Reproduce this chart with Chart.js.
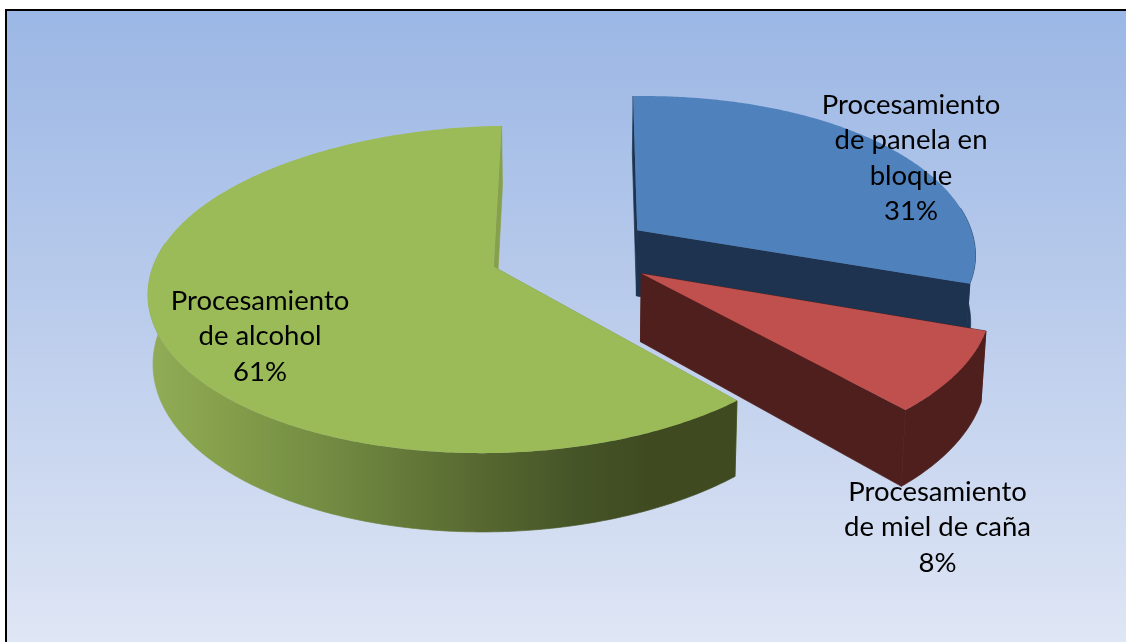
<!DOCTYPE html>
<html>
<head>
<meta charset="utf-8">
<title>Procesamiento</title>
<script src="https://cdn.jsdelivr.net/npm/chart.js@4/dist/chart.umd.min.js"></script>
<style>
  html, body { margin: 0; padding: 0; background: #fff; overflow: hidden; }
  canvas { display: block; }
</style>
</head>
<body>
<canvas id="pie3d" width="1126" height="642"></canvas>
<script>
const categories = ["Procesamiento de panela en bloque", "Procesamiento de miel de caña", "Procesamiento de alcohol"];
const shares = [31, 8, 61];
const labelLines = [
  ["Procesamiento", "de panela en", "bloque", "31%"],
  ["Procesamiento", "de miel de caña", "8%"],
  ["Procesamiento", "de alcohol", "61%"],
];

const topColors = ["#4f81bd", "#c0504d", "#9bbb59"];
const wallColors = ["#1d334f", "#4f1f1e", null];
const innerWallColors = ["#1d334f", "#4f1f1e", "#86a04c"];

// camera used to project the flat pie onto the page
const view = { x0: 573, y0: 252, a: 344, b: 160, k: 0.14, backBend: 11, depth: 67, bottomScale: 0.988 };
const explodeBySlice = [0.235, 0.235, 0.245];
const radiusBySlice = [0.99, 0.985, 0.978];
const labelBoxes = [
  { x: 911, y: 105 },
  { x: 937.5, y: 492 },
  { x: 260, y: 301 },
];
const lineGap = 35.5;

function project(u, v, bottom) {
  const s = 1 / (1 - view.k * v);
  let dx = view.a * u * s;
  let dy = view.b * v * s;
  // the far half of the pie leans slightly to the right
  if (v < 0) dx += view.backBend * v * v;
  if (bottom) {
    dx *= view.bottomScale;
    dy += view.depth * s;
  }
  return [view.x0 + dx, view.y0 + dy];
}

function tracePath(ctx, pts) {
  ctx.beginPath();
  pts.forEach((p, i) => (i ? ctx.lineTo(p[0], p[1]) : ctx.moveTo(p[0], p[1])));
  ctx.closePath();
}

// fill plus a hairline stroke so neighbouring walls leave no seam
function fillWall(ctx, pts, paint) {
  ctx.fillStyle = paint;
  ctx.strokeStyle = paint;
  ctx.lineWidth = 0.7;
  tracePath(ctx, pts);
  ctx.fill();
  ctx.stroke();
}

function rimAngles(start, end) {
  const steps = Math.ceil((end - start) / 0.01);
  const angles = [];
  for (let i = 0; i <= steps; i++) angles.push(start + ((end - start) * i) / steps);
  return angles;
}

function greenWallFill(ctx) {
  const g = ctx.createLinearGradient(146, 0, 738, 0);
  g.addColorStop(0, "#92ad58");
  g.addColorStop(0.12, "#86a04c");
  g.addColorStop(0.3, "#738c42");
  g.addColorStop(0.5, "#5e7135");
  g.addColorStop(0.72, "#465527");
  g.addColorStop(0.85, "#3f4a20");
  g.addColorStop(1, "#3f4a20");
  return g;
}

function drawSlice(ctx, arc, index) {
  const mid = (arc.startAngle + arc.endAngle) / 2;
  const cu = explodeBySlice[index] * Math.cos(mid);
  const cv = explodeBySlice[index] * Math.sin(mid);
  const r = radiusBySlice[index];
  const rimAt = (t, bottom) => project(cu + r * Math.cos(t), cv + r * Math.sin(t), bottom);
  const angles = rimAngles(arc.startAngle, arc.endAngle);
  const first = angles[0];
  const last = angles[angles.length - 1];
  const apexTop = project(cu, cv, false);
  const apexBottom = project(cu, cv, true);

  // radial walls
  fillWall(ctx, [apexTop, rimAt(first, false), rimAt(first, true), apexBottom], innerWallColors[index]);
  fillWall(ctx, [apexTop, rimAt(last, false), rimAt(last, true), apexBottom], innerWallColors[index]);

  // outer wall, only the part of the rim facing the viewer
  const facing = angles.filter((t) => Math.sin(t) > -0.15);
  if (facing.length) {
    const wallPts = facing.map((t) => rimAt(t, false)).concat(facing.slice().reverse().map((t) => rimAt(t, true)));
    fillWall(ctx, wallPts, wallColors[index] || greenWallFill(ctx));
  }

  // top face
  ctx.fillStyle = topColors[index];
  tracePath(ctx, [apexTop].concat(angles.map((t) => rimAt(t, false))));
  ctx.fill();
}

const pie3dPlugin = {
  id: "pie3d",
  beforeDraw(chart) {
    const { ctx, width, height } = chart;
    const bg = ctx.createLinearGradient(0, 10, 0, height);
    bg.addColorStop(0, "#9bb7e5");
    bg.addColorStop(0.5, "#bccdec");
    bg.addColorStop(1, "#dfe6f5");
    ctx.save();
    ctx.fillStyle = "#ffffff";
    ctx.fillRect(0, 0, width, height);
    ctx.fillStyle = bg;
    ctx.fillRect(6, 10, width - 6, height - 10);
    ctx.fillStyle = "#000000";
    ctx.fillRect(5, 9, width - 5, 2);
    ctx.fillRect(5, 9, 2, height - 9);
    ctx.restore();
  },
  beforeDatasetDraw(chart, args) {
    const { ctx } = chart;
    const arcs = args.meta.data;
    ctx.save();
    arcs.forEach((arc, i) => drawSlice(ctx, arc, i));
    ctx.restore();
    return false;
  },
  afterDatasetsDraw(chart) {
    const { ctx } = chart;
    ctx.save();
    ctx.fillStyle = "#000000";
    ctx.font = '27.5px Lato, "Open Sans", sans-serif';
    ctx.textAlign = "center";
    ctx.textBaseline = "middle";
    labelLines.forEach((lines, i) => {
      lines.forEach((line, j) => {
        ctx.fillText(line, labelBoxes[i].x, labelBoxes[i].y + j * lineGap);
      });
    });
    ctx.restore();
  },
};

new Chart(document.getElementById("pie3d"), {
  type: "pie",
  data: {
    labels: categories,
    datasets: [{ data: shares, backgroundColor: topColors, borderWidth: 0 }],
  },
  options: {
    responsive: false,
    animation: false,
    rotation: -2,
    plugins: { legend: { display: false }, tooltip: { enabled: false } },
  },
  plugins: [pie3dPlugin],
});
</script>
</body>
</html>
